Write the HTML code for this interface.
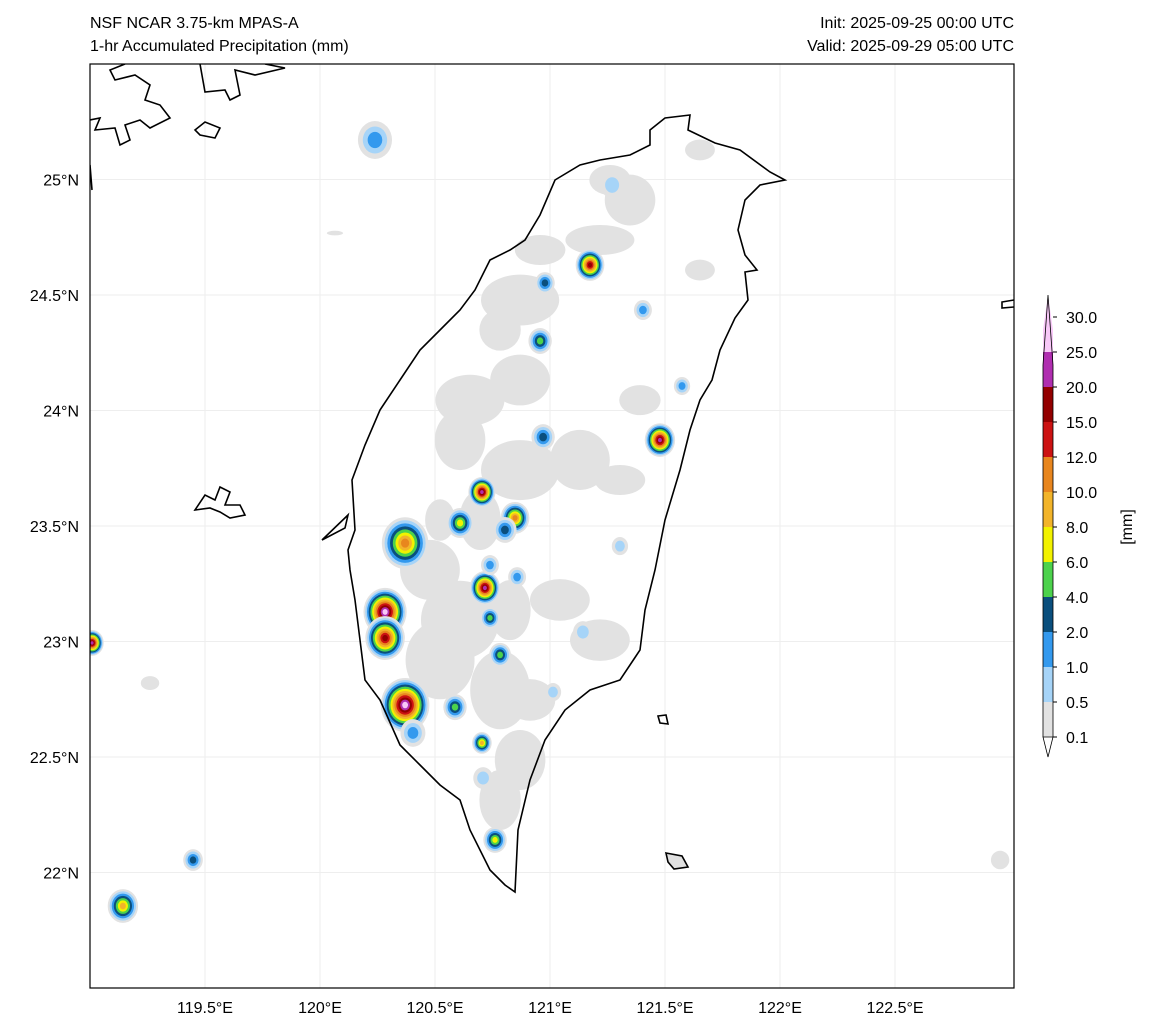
<!DOCTYPE html>
<html><head><meta charset="utf-8"><style>
body{margin:0;background:#fff;}
svg{display:block;font-family:"Liberation Sans",sans-serif;}
</style></head><body>
<svg id="c" width="1150" height="1032">
<text x="90" y="28" font-size="16">NSF NCAR 3.75-km MPAS-A</text>
<text x="90" y="51" font-size="16">1-hr Accumulated Precipitation (mm)</text>
<text x="1014" y="28" font-size="16" text-anchor="end">Init: 2025-09-25 00:00 UTC</text>
<text x="1014" y="51" font-size="16" text-anchor="end">Valid: 2025-09-29 05:00 UTC</text>
<defs><clipPath id="clip"><rect x="90" y="64" width="924" height="924"/></clipPath></defs>
<g id="grid"></g>
<g id="gray" clip-path="url(#clip)"></g>
<g id="blobs" clip-path="url(#clip)"></g>
<g clip-path="url(#clip)" fill="none" stroke="#000" stroke-width="1.6">
<path d="M650,130 L665,118 690,115 688,130 715,143 740,150 770,172 785,180 760,185 745,200 738,230 745,255 757,270 745,272 748,300 735,318 720,350 712,380 700,400 690,430 680,470 665,520 655,570 645,610 640,650 620,680 590,690 565,710 545,740 530,780 518,830 515,892 505,885 490,870 470,830 460,800 440,785 420,765 400,745 380,700 365,680 360,640 355,600 350,570 348,550 355,530 352,480 365,445 380,410 400,380 420,350 440,330 460,310 475,290 490,260 510,250 525,240 540,215 555,180 580,165 600,160 630,155 650,145 Z"/>
<path d="M90,120 L100,118 95,130 115,128 120,145 130,140 125,125 140,120 150,128 170,118 160,105 145,100 150,85 135,75 115,80 110,70 125,64 M200,64 L205,92 225,90 230,100 240,95 235,70 255,75 285,68 265,64 M195,130 L205,122 220,128 215,138 200,135 Z M90,165 L92,190 M322,540 L348,515 345,528 Z"/>
<path d="M195,510 L205,495 215,500 220,487 230,492 225,505 240,505 245,515 230,518 220,512 210,508 Z"/>
<path fill="#fff" d="M658,716 L666,715 668,724 660,723 Z"/>
<path fill="#e0e0e0" d="M666,853 L682,856 688,867 674,869 668,862 Z"/>
<path d="M1014,300 L1002,302 1002,308 1014,307"/>
</g>
<rect x="90" y="64" width="924" height="924" fill="none" stroke="#000" stroke-width="1.2"/>
<g id="axes"></g>
<g id="cbar"></g>
<text transform="translate(1132,527) rotate(-90)" font-size="16" text-anchor="middle">[mm]</text>
</svg>
<script>
const lonTicks=[119.5,120,120.5,121,121.5,122,122.5];
const lonLabels=["119.5°E","120°E","120.5°E","121°E","121.5°E","122°E","122.5°E"];
const latTicks=[22,22.5,23,23.5,24,24.5,25];
const latLabels=["22°N","22.5°N","23°N","23.5°N","24°N","24.5°N","25°N"];
const levels=[0.1,0.5,1,2,4,6,8,10,12,15,20,25,30];
const colors=["#e2e2e2","#a6d4f8","#3399ee","#0a4f7d","#4cd24c","#f2f200","#f2b42a","#e8861e","#cc1212","#930000","#b02eb0","#f8c8f8"];
// precipitation cells: lon, lat, max level index, radius (deg lon)
const cellLon=[120.239,121.174,120.978,120.957,121.404,120.970,121.478,121.574,120.704,120.609,120.848,120.804,120.370,120.717,120.857,120.739,120.283,120.283,119.009,120.783,121.143,120.370,120.587,120.704,120.404,120.761,119.448,119.143,121.304,120.709,121.013,121.270,120.739];
const cellLat=[25.171,24.630,24.552,24.301,24.435,23.885,23.872,24.106,23.647,23.513,23.535,23.483,23.426,23.232,23.279,23.102,23.128,23.015,22.994,22.942,23.041,22.725,22.716,22.561,22.604,22.141,22.054,21.855,23.413,22.409,22.781,24.976,23.331];
const cellLvl=[2,9,3,4,2,3,10,2,10,5,7,3,7,10,2,4,11,9,10,4,1,11,4,6,2,5,3,6,1,1,1,1,2];
const cellRad=[0.065,0.052,0.03,0.039,0.026,0.039,0.056,0.022,0.048,0.048,0.052,0.039,0.095,0.056,0.026,0.03,0.087,0.078,0.039,0.035,0.03,0.1,0.039,0.03,0.043,0.039,0.03,0.056,0.022,0.03,0.022,0.039,0.026];
// light-precip gray areas: lon, lat, rx, ry (deg)
const gLon=[120.870,120.957,121.217,121.348,120.783,120.652,120.870,120.609,120.870,121.130,120.696,120.478,120.609,120.826,120.522,120.783,120.913,120.870,120.783,121.217,121.043,121.304,121.391,121.652,121.261,121.652,120.522,119.261,120.065,122.957];
const gLat=[24.478,24.695,24.738,24.911,24.349,24.045,24.132,23.872,23.742,23.786,23.526,23.310,23.093,23.136,22.920,22.790,22.747,22.487,22.314,23.006,23.180,23.699,24.045,24.608,24.998,25.128,23.526,22.820,24.768,22.054];
const gRx=[0.17,0.11,0.15,0.11,0.09,0.15,0.13,0.11,0.17,0.13,0.09,0.13,0.17,0.09,0.15,0.13,0.11,0.11,0.09,0.13,0.13,0.11,0.09,0.065,0.09,0.065,0.065,0.04,0.035,0.04];
const gRy=[0.11,0.065,0.065,0.11,0.09,0.11,0.11,0.13,0.13,0.13,0.13,0.13,0.17,0.13,0.17,0.17,0.09,0.13,0.13,0.09,0.09,0.065,0.065,0.045,0.065,0.045,0.09,0.03,0.01,0.04];

const NS="http://www.w3.org/2000/svg";
const X=lon=>90+(lon-119)*230;
const Y=lat=>64+(25.5-lat)*231;
function mk(tag,attrs,parent){const e=document.createElementNS(NS,tag);for(const k in attrs)e.setAttribute(k,attrs[k]);parent.appendChild(e);return e;}
const grid=document.getElementById('grid'),axes=document.getElementById('axes');
lonTicks.forEach((v,i)=>{
 const l=mk('line',{x1:X(v),x2:X(v),y1:64,y2:988,stroke:'#eee','stroke-width':1},grid);
 
 
 const t=mk('text',{x:X(v),y:1013,'font-size':16,'text-anchor':'middle'},axes);t.textContent=lonLabels[i];
 
 
});
latTicks.forEach((v,i)=>{
 const l=mk('line',{x1:90,x2:1014,y1:Y(v),y2:Y(v),stroke:'#eee','stroke-width':1},grid);
 
 
 const t=mk('text',{x:79,y:Y(v)+6,'font-size':16,'text-anchor':'end'},axes);t.textContent=latLabels[i];
 
 
});
const gray=document.getElementById('gray');
gLon.forEach((v,i)=>{
 const e=mk('ellipse',{cx:X(v),cy:Y(gLat[i]),rx:gRx[i]*230,ry:gRy[i]*231,fill:colors[0]},gray);
 
 
});
const blobs=document.getElementById('blobs');
function cell(lon,lat,lvl,rad){
 const g=mk('g',{},blobs);
 
 
 const r0=rad*230+4;
 for(let k=0;k<=lvl;k++){
  const r=r0*(1-k/(lvl+1.5));
  mk('ellipse',{cx:X(lon),cy:Y(lat),rx:r*0.9,ry:r,fill:colors[k]},g);
 }
}
cellLon.forEach((v,i)=>cell(v,cellLat[i],cellLvl[i],cellRad[i]));
// colorbar
const cb=document.getElementById('cbar');
const cbX=1043,cbW=10,seg=35,cbBot=737;
colors.forEach((c,i)=>{
 const y=cbBot-(i+1)*seg;
 let e;
 if(i===colors.length-1){e=mk('polygon',{points:`${cbX},${y+seg} ${cbX+cbW},${y+seg} ${cbX+cbW},${y+13} ${cbX+cbW/2},${y-22} ${cbX},${y+13}`,fill:c,stroke:'none'},cb);}
 else e=mk('rect',{x:cbX,y:y,width:cbW,height:seg,fill:c},cb);
 
 
});
const ext=mk('polygon',{points:`${cbX},${cbBot} ${cbX+cbW},${cbBot} ${cbX+cbW/2},${cbBot+20}`,fill:'#fff',stroke:'#000','stroke-width':0.8},cb);


mk('path',{d:`M${cbX},${cbBot} L${cbX},${cbBot-seg*11+13} L${cbX+cbW/2},${cbBot-seg*12-22} L${cbX+cbW},${cbBot-seg*11+13} L${cbX+cbW},${cbBot}`,fill:'none',stroke:'#000','stroke-width':0.8},cb);
levels.forEach((v,i)=>{
 const y=cbBot-i*seg;
 mk('line',{x1:cbX+cbW,x2:cbX+cbW+4,y1:y,y2:y,stroke:'#000'},cb);
 const t=mk('text',{x:1066,y:y+6,'font-size':16},cb);t.textContent=v.toFixed(1);
 
 
});
</script>
</body></html>
